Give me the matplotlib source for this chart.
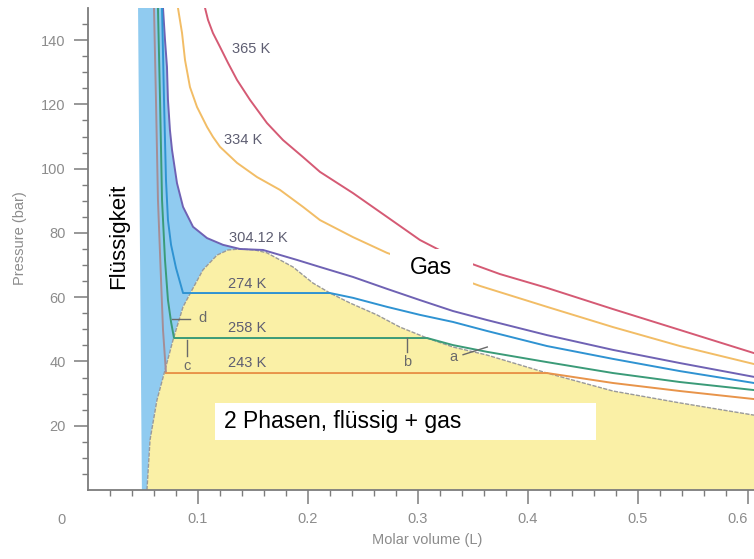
import numpy as np
import matplotlib
matplotlib.use("Agg")
import matplotlib.pyplot as plt
from matplotlib.patches import Rectangle

# ---------------- data (molar volume in L, pressure in bar) ----------------
v_365 = [0.1064, 0.1091, 0.1136, 0.1200, 0.1273, 0.1355, 0.1473, 0.1627, 0.1773, 0.1955,
         0.2109, 0.2409, 0.2718, 0.3018, 0.3318, 0.3745, 0.4173, 0.4773, 0.5382, 0.6055]
p_365 = [150.0, 146.3, 142.2, 137.9, 132.9, 127.6, 121.4, 114.2, 108.9, 103.6,
         99.0, 92.4, 85.0, 77.8, 72.5, 67.2, 62.9, 56.3, 49.8, 42.6]

v_334 = [0.0818, 0.0855, 0.0882, 0.0927, 0.0991, 0.1082, 0.1136, 0.1200, 0.1355, 0.1536, 0.1745,
         0.1955, 0.2109, 0.2409, 0.2718, 0.3136, 0.3564, 0.4173, 0.4773, 0.5382, 0.6055]
p_334 = [150.0, 142.2, 133.8, 125.4, 119.2, 113.0, 109.9, 106.8, 101.8, 97.4, 93.4,
         88.1, 84.0, 78.7, 73.8, 68.8, 63.5, 57.0, 50.7, 44.8, 39.2]

v_304 = [0.0682, 0.0700, 0.0718, 0.0727, 0.0745, 0.0764, 0.0809, 0.0864, 0.0955, 0.1082, 0.1227,
         0.1382, 0.1591, 0.1900, 0.2109, 0.2409, 0.2718, 0.3018, 0.3318, 0.3627, 0.4173, 0.4773,
         0.5382, 0.6055]
p_304 = [150.0, 140.1, 131.7, 121.4, 112.0, 105.8, 95.5, 88.1, 81.9, 78.4, 76.3,
         75.0, 74.7, 71.6, 69.4, 66.3, 62.6, 59.1, 55.7, 52.9, 48.2, 43.6,
         39.5, 35.2]

v_274 = [0.0673, 0.0691, 0.0709, 0.0727, 0.0755, 0.0800, 0.0864, 0.2200, 0.2409, 0.2718,
         0.3018, 0.3318, 0.3627, 0.4173, 0.4773, 0.5382, 0.6055]
p_274 = [150.0, 121.4, 96.5, 84.0, 76.3, 69.1, 61.3, 61.3, 59.8, 57.0,
         54.5, 52.3, 49.5, 44.8, 40.8, 37.0, 33.3]

v_258 = [0.0636, 0.0655, 0.0673, 0.0700, 0.0727, 0.0755, 0.0782, 0.3082, 0.3318, 0.3627,
         0.4173, 0.4773, 0.5382, 0.6055]
p_258 = [150.0, 121.4, 90.3, 71.6, 59.1, 52.3, 47.3, 47.3, 45.1, 43.0,
         39.8, 36.4, 33.6, 31.1]

v_243 = [0.0600, 0.0618, 0.0636, 0.0664, 0.0682, 0.0709, 0.4173, 0.4773, 0.5382, 0.6055]
p_243 = [150.0, 121.4, 90.3, 65.4, 49.8, 36.4, 36.4, 33.3, 30.8, 28.3]
n_liquid_243 = 6  # points of the liquid branch (drawn over the blue region)

# two-phase dome (coexistence curve)
v_dome = [0.0536, 0.0564, 0.0627, 0.0700, 0.0773, 0.0864, 0.0945, 0.1045, 0.1173, 0.1273,
          0.1382, 0.1518, 0.1627, 0.1864, 0.2045, 0.2200, 0.2382, 0.2627, 0.2836, 0.3082,
          0.3318, 0.3627, 0.4173, 0.4773, 0.5382, 0.6055]
p_dome = [0.0, 15.6, 28.0, 37.3, 46.7, 57.0, 62.2, 68.5, 73.1, 74.7,
          75.0, 74.7, 73.8, 69.4, 64.4, 61.3, 58.2, 54.5, 50.7, 47.3,
          44.5, 42.0, 36.4, 30.8, 27.1, 23.3]
n_dome_left = 11  # up to and including the critical point

# left edge of the liquid (blue) region
v_liq_edge = [0.0455, 0.0490]
p_liq_edge = [150.0, 0.0]

iso_labels = ["365 K", "334 K", "304.12 K", "274 K", "258 K", "243 K"]

# point markers a-d
mark_names = ["a", "b", "c", "d"]
mark_v1 = [0.341, 0.290, 0.090, 0.076]
mark_p1 = [42.1, 47.4, 46.7, 53.2]
mark_v2 = [0.363, 0.290, 0.090, 0.093]
mark_p2 = [44.5, 43.0, 41.7, 53.2]

x_ticks = [0.1, 0.2, 0.3, 0.4, 0.5, 0.6]
y_ticks = [20, 40, 60, 80, 100, 120, 140]

# ---------------- figure ----------------
plt.rcParams['font.family'] = ['Liberation Sans', 'DejaVu Sans']
W, H = 754, 559
fig = plt.figure(figsize=(W / 100, H / 100), dpi=100)
ax = fig.add_axes([88 / W, (H - 490) / H, (W - 88) / W, (490 - 8) / H])
ax.set_xlim(0, 0.6055)
ax.set_ylim(0, 150)

c_blue_fill = '#90cbf0'
c_yellow = '#faf0a6'

# blue (liquid) region
bv = np.concatenate([v_liq_edge, v_dome[:n_dome_left],
                     [v for v in v_304 if v <= v_dome[n_dome_left - 1]][::-1]])
bp = np.concatenate([p_liq_edge, p_dome[:n_dome_left],
                     [p for v, p in zip(v_304, p_304) if v <= v_dome[n_dome_left - 1]][::-1]])
ax.fill(bv, bp, color=c_blue_fill, lw=0, zorder=1)

# yellow two-phase region
yv = np.concatenate([v_dome, [v_dome[-1], v_dome[0]]])
yp = np.concatenate([p_dome, [0.0, 0.0]])
ax.fill(yv, yp, color=c_yellow, lw=0, zorder=1)

# dome boundary
ax.plot(v_dome, p_dome, color='#9a9a9a', lw=1.0, ls=(0, (3, 1)), zorder=2)

lw = 1.4
kw = dict(lw=lw, zorder=3, solid_joinstyle='round', solid_capstyle='round')
ax.plot(v_365, p_365, color='#d55a74', **kw)
ax.plot(v_334, p_334, color='#f2bd66', **kw)
ax.plot(v_304, p_304, color='#6f62b4', **kw)
ax.plot(v_274, p_274, color='#2f93d2', **kw)
ax.plot(v_258, p_258, color='#3b9b78', **kw)
ax.plot(v_243[:n_liquid_243], p_243[:n_liquid_243], color='#a58d95', **kw)
ax.plot(v_243[n_liquid_243 - 1:], p_243[n_liquid_243 - 1:], color='#e8944a', **kw)

# isotherm labels
lab_pos = [(0.148, 137.3), (0.141, 108.9), (0.1545, 78.4), (0.1445, 64.1), (0.1445, 50.4), (0.1445, 39.5)]
for txt, (x, y) in zip(iso_labels, lab_pos):
    ax.text(x, y, txt, ha='center', va='center', fontsize=10.5, color='#5e5e72', zorder=5)

# markers a-d
for n, x1, y1, x2, y2 in zip(mark_names, mark_v1, mark_p1, mark_v2, mark_p2):
    ax.plot([x1, x2], [y1, y2], color='#6a6a6a', lw=1.0, zorder=4)
    if n == "a":
        tx, ty = x1 - 0.009, y1 - 0.6
    elif n == "d":
        tx, ty = x2 + 0.011, y2 + 0.3
    else:
        tx, ty = x2, y2 - 3.2
    ax.text(tx, ty, n, ha='center', va='center', fontsize=10.5, color='#6a6a6a', zorder=5)

# region labels with white boxes
ax.add_patch(Rectangle((0.2745, 63.2), 0.0755, 11.8, facecolor='white', edgecolor='none', zorder=6))
ax.text(0.3118, 69.1, "Gas", ha='center', va='center', fontsize=16.5, color='black', zorder=7)
ax.add_patch(Rectangle((0.1155, 15.6), 0.3463, 11.5, facecolor='white', edgecolor='none', zorder=6))
ax.text(0.1236, 21.2, "2 Phasen, flüssig + gas", ha='left', va='center', fontsize=16.5,
        color='black', zorder=7)
ax.text(0.0282, 79.1, "Flüssigkeit", ha='center', va='center', rotation=90, fontsize=16,
        color='black', zorder=7)

# axes styling
for s in ['top', 'right']:
    ax.spines[s].set_visible(False)
for s in ['left', 'bottom']:
    ax.spines[s].set_color('#7c7c7c')
    ax.spines[s].set_linewidth(1.3)
ax.set_xticks(x_ticks)
ax.set_xticklabels([f"{t:.1f}" for t in x_ticks])
ax.set_yticks(y_ticks)
ax.set_yticklabels([str(t) for t in y_ticks])
ax.set_xticks(np.arange(0.02, 0.605, 0.02), minor=True)
ax.set_yticks(np.arange(5, 150, 5), minor=True)
ax.tick_params(which='major', length=10, width=1.1, color='#7c7c7c', labelcolor='#8c8c8c',
               labelsize=10.5, pad=6)
ax.tick_params(which='minor', length=4, width=1.0, color='#7c7c7c')
ax.get_xticklabels()[-1].set_horizontalalignment('right')
ax.patch.set_alpha(0)

fig.text(62 / W, 1 - 520 / H, "0", ha='center', va='center', fontsize=10.5, color='#8c8c8c')
fig.text(20 / W, 1 - 238 / H, "Pressure (bar)", rotation=90, ha='center', va='center',
         fontsize=10.5, color='#8c8c8c')
fig.text(427 / W, 1 - 540 / H, "Molar volume (L)", ha='center', va='center',
         fontsize=10.5, color='#8c8c8c')

fig.savefig("out.png", dpi=100)
